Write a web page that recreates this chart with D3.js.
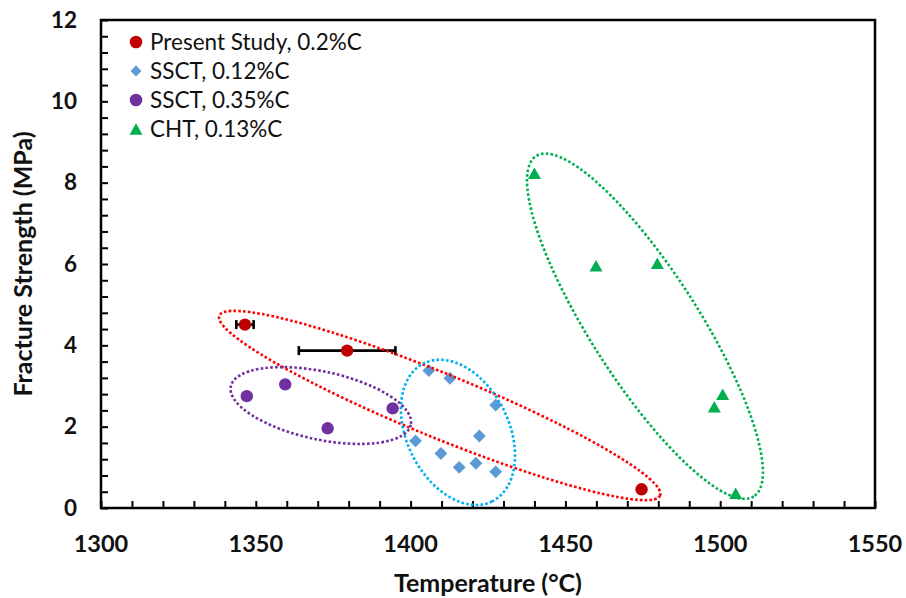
<!DOCTYPE html>
<html>
<head>
<meta charset="utf-8">
<script src="https://cdn.jsdelivr.net/npm/d3@7"></script>
<style>
  html, body { margin: 0; padding: 0; background: #fff; }
  svg { display: block; font-family: Lato, "Open Sans", sans-serif; }
</style>
</head>
<body>
<svg id="chart" width="906" height="598"></svg>
<script>
// Fracture strength vs. temperature for several casting studies
const seriesNames = ["Present Study, 0.2%C", "SSCT, 0.12%C", "SSCT, 0.35%C", "CHT, 0.13%C"];

const presentTemp = [1346.5, 1379.5, 1474.6];
const presentStrength = [4.51, 3.87, 0.46];
const presentTempErr = [2.8, 15.6, 0];

const ssct12Temp = [1405.9, 1412.7, 1427.5, 1422.2, 1401.6, 1409.8, 1421.1, 1415.7, 1427.5];
const ssct12Strength = [3.38, 3.19, 2.53, 1.77, 1.65, 1.34, 1.10, 1.00, 0.89];

const ssct35Temp = [1347.1, 1359.5, 1373.2, 1394.2];
const ssct35Strength = [2.75, 3.04, 1.96, 2.45];

const chtTemp = [1440.0, 1459.9, 1479.7, 1500.8, 1498.1, 1505.0];
const chtStrength = [8.23, 5.96, 6.02, 2.80, 2.49, 0.36];

const xTickLabels = [1300, 1350, 1400, 1450, 1500, 1550];
const yTickLabels = [0, 2, 4, 6, 8, 10, 12];

// Centres of the grouping outlines, in data units (same order as seriesNames)
const groupCenterTemp = [1409.4, 1415.3, 1371.0, 1475.7];
const groupCenterStrength = [2.52, 1.86, 2.52, 4.47];

// ---- layout / styling ----
const colors = ["#C00000", "#5B9BD5", "#7030A0", "#00B050"];
const outlineColors = ["#FF0000", "#00B0F0", "#7030A0", "#00B050"];
const outlineShape = [
  { rx: 238, ry: 32, angle: 22.2 },
  { rx: 77, ry: 51, angle: 63.7 },
  { rx: 92, ry: 34, angle: 12.1 },
  { rx: 202, ry: 54, angle: 57.4 }
];

const plot = { left: 101, right: 875, top: 20, bottom: 508 };
const svg = d3.select("#chart");

const x = d3.scaleLinear().domain([1300, 1550]).range([plot.left, plot.right]);
const y = d3.scaleLinear().domain([0, 12]).range([plot.bottom, plot.top]);

// Tick marks (inside the plot)
const xAxis = d3.axisBottom(x).tickValues(d3.range(1300, 1551, 10)).tickSize(-7).tickFormat("");
const yAxis = d3.axisLeft(y).tickValues(d3.range(0, 12.001, 0.4)).tickSize(-7).tickFormat("");

const gx = svg.append("g").attr("transform", `translate(0,${plot.bottom})`).call(xAxis);
const gy = svg.append("g").attr("transform", `translate(${plot.left},0)`).call(yAxis);
[gx, gy].forEach(g => {
  g.select(".domain").remove();
  g.selectAll(".tick line").attr("stroke", "#000").attr("stroke-width", 2);
});

// Frame
svg.append("rect")
  .attr("x", plot.left).attr("y", plot.top)
  .attr("width", plot.right - plot.left).attr("height", plot.bottom - plot.top)
  .attr("fill", "none").attr("stroke", "#000").attr("stroke-width", 2.5);

// Tick labels
svg.append("g").selectAll("text").data(xTickLabels).join("text")
  .attr("x", d => x(d)).attr("y", 552)
  .attr("text-anchor", "middle")
  .attr("font-size", 23.5).attr("font-weight", "bold").attr("fill", "#111")
  .text(d => d);

svg.append("g").selectAll("text").data(yTickLabels).join("text")
  .attr("x", 77).attr("y", d => y(d) + 7.5)
  .attr("text-anchor", "end")
  .attr("font-size", 22.5).attr("font-weight", "bold").attr("fill", "#111")
  .text(d => d);

// Axis titles
svg.append("text")
  .attr("x", (plot.left + plot.right) / 2).attr("y", 592)
  .attr("text-anchor", "middle")
  .attr("font-size", 25).attr("font-weight", "bold").attr("fill", "#111")
  .text("Temperature (°C)");

svg.append("text")
  .attr("transform", `translate(32,${(plot.top + plot.bottom) / 2}) rotate(-90)`)
  .attr("text-anchor", "middle")
  .attr("font-size", 25).attr("font-weight", "bold").attr("fill", "#111")
  .text("Fracture Strength (MPa)");

// Marker shapes
const circle = r => d3.symbol(d3.symbolCircle, Math.PI * r * r)();
const diamond = h => `M0,${-h}L${h},0L0,${h}L${-h},0Z`;
const triangle = (w, h) => `M0,${-h / 2}L${w / 2},${h / 2}L${-w / 2},${h / 2}Z`;
const markerPaths = [circle(6.2), diamond(6.4), circle(6.2), triangle(13, 11.5)];

const series = [
  { t: presentTemp, s: presentStrength },
  { t: ssct12Temp, s: ssct12Strength },
  { t: ssct35Temp, s: ssct35Strength },
  { t: chtTemp, s: chtStrength }
];

// Horizontal error bars for the present study
const errG = svg.append("g").attr("stroke", "#000").attr("stroke-width", 2.6);
presentTemp.forEach((t, i) => {
  const e = presentTempErr[i];
  if (!e) return;
  const yy = y(presentStrength[i]);
  errG.append("line").attr("x1", x(t - e)).attr("x2", x(t + e)).attr("y1", yy).attr("y2", yy);
  [t - e, t + e].forEach(v => {
    errG.append("line").attr("x1", x(v)).attr("x2", x(v)).attr("y1", yy - 4.5).attr("y2", yy + 4.5);
  });
});

// Data points
[2, 1, 3, 0].forEach(k => {
  const sr = series[k];
  svg.append("g").selectAll("path").data(sr.t.map((t, i) => [t, sr.s[i]])).join("path")
    .attr("d", markerPaths[k])
    .attr("transform", d => `translate(${x(d[0])},${y(d[1])})`)
    .attr("fill", colors[k]);
});

// Dotted outlines grouping each data set
outlineShape.forEach((o, k) => {
  svg.append("ellipse")
    .attr("cx", 0).attr("cy", 0).attr("rx", o.rx).attr("ry", o.ry)
    .attr("transform", `translate(${x(groupCenterTemp[k])},${y(groupCenterStrength[k])}) rotate(${o.angle})`)
    .attr("fill", "none")
    .attr("stroke", outlineColors[k])
    .attr("stroke-width", 2.6)
    .attr("stroke-dasharray", "2.6 2.2");
});

// Legend
const legend = svg.append("g");
const legendMarkers = [circle(6.3), diamond(5.5), circle(6.3), triangle(13, 11.5)];
seriesNames.forEach((name, k) => {
  const yy = 42 + k * 29;
  legend.append("path").attr("d", legendMarkers[k])
    .attr("transform", `translate(136,${yy})`).attr("fill", colors[k]);
  legend.append("text").attr("x", 150).attr("y", yy + 7.5)
    .attr("font-size", 22.5).attr("fill", "#111").text(name);
});
</script>
</body>
</html>
